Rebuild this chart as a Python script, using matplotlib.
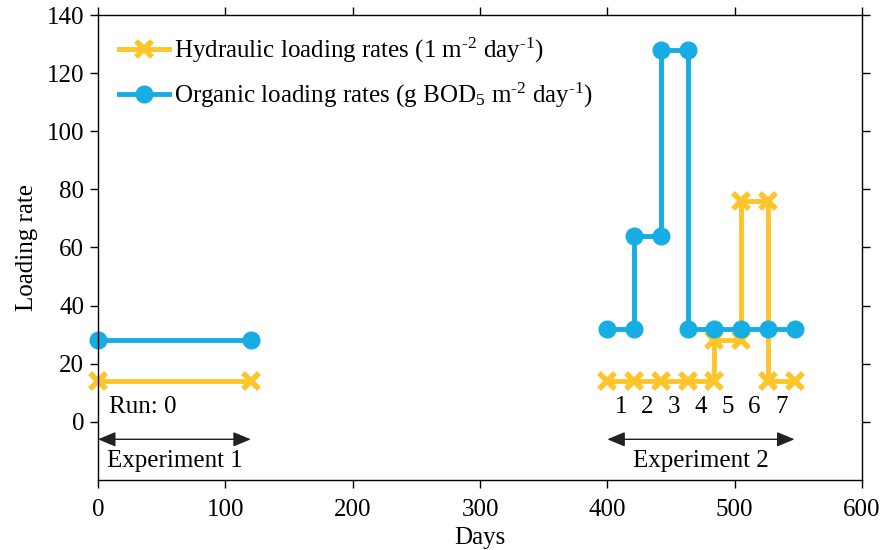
import matplotlib
matplotlib.use("Agg")
import matplotlib.pyplot as plt

plt.rcParams['font.family'] = ['Liberation Serif', 'DejaVu Serif']
plt.rcParams['mathtext.fontset'] = 'custom'
plt.rcParams['mathtext.rm'] = 'Liberation Serif'
plt.rcParams['mathtext.it'] = 'Liberation Serif:italic'

# Experiment 1 (run 0)
exp1_days = [0, 120]
exp1_hydraulic = [14, 14]
exp1_organic = [28, 28]

# Experiment 2 (runs 1-7), step profile
exp2_hyd_days = [400, 421, 442, 463, 484, 484, 505, 505, 526, 526, 547]
exp2_hydraulic = [14, 14, 14, 14, 14, 28, 28, 76, 76, 14, 14]
exp2_org_days = [400, 421, 421, 442, 442, 463, 463, 484, 505, 526, 547]
exp2_organic = [32, 32, 64, 64, 128, 128, 32, 32, 32, 32, 32]

run_labels = ['1', '2', '3', '4', '5', '6', '7']
run_starts = [400, 421, 442, 463, 484, 505, 526]
run_length = 21

yellow = '#FDC52A'
blue = '#15ADE3'
FS = 18

fig = plt.figure(figsize=(8.87, 5.5), dpi=100)
ax = fig.add_axes([0.1105, 0.1273, 0.8613, 0.8454])

lw = 3.5
xkw = dict(color=yellow, lw=lw, marker='x', ms=12, mew=4)
okw = dict(color=blue, lw=lw, marker='o', ms=12)
ax.plot(exp1_days, exp1_hydraulic, **xkw,
        label='Hydraulic loading rates (1 m$^{\\text{-2}}$ day$^{\\text{-1}}$)', clip_on=False)
ax.plot(exp1_days, exp1_organic, **okw,
        label='Organic loading rates (g BOD$_{\\text{5}}$ m$^{\\text{-2}}$ day$^{\\text{-1}}$)', clip_on=False)
ax.plot(exp2_hyd_days, exp2_hydraulic, **xkw)
ax.plot(exp2_org_days, exp2_organic, **okw)

ax.set_xlim(0, 600)
ax.set_ylim(-20, 140)
ax.set_xticks(range(0, 601, 100))
ax.set_yticks(range(0, 141, 20))
ax.tick_params(direction='out', labelsize=FS, length=6, width=1,
               top=True, right=True, pad=4)
ax.tick_params(axis='x', pad=8)
for s in ax.spines.values():
    s.set_linewidth(1.0)

ax.set_xlabel('Days', fontsize=FS, labelpad=4)
ax.set_ylabel('Loading rate', fontsize=FS, labelpad=6)

# annotations
ax.text(9, 5, 'Run: 0', fontsize=FS, ha='left', va='center')
for lab, st in zip(run_labels, run_starts):
    ax.text(st + run_length / 2, 5, lab, fontsize=FS, ha='center', va='center')

arrow_kw = dict(arrowstyle='<|-|>,head_length=0.6,head_width=0.25', color='#222222',
                lw=1.0, mutation_scale=18, shrinkA=0, shrinkB=0)
ax.annotate('', xy=(0, -6), xytext=(120, -6), arrowprops=arrow_kw, annotation_clip=False)
ax.annotate('', xy=(400, -6), xytext=(547, -6), arrowprops=arrow_kw)
ax.text(60, -13.5, 'Experiment 1', fontsize=FS, ha='center', va='center')
ax.text(473.5, -13.5, 'Experiment 2', fontsize=FS, ha='center', va='center')

leg = ax.legend(loc='upper left', fontsize=FS, frameon=False, handlelength=2.0,
                handletextpad=0.2, borderaxespad=0.45, labelspacing=0.62)

fig.savefig('out.png', dpi=100)
